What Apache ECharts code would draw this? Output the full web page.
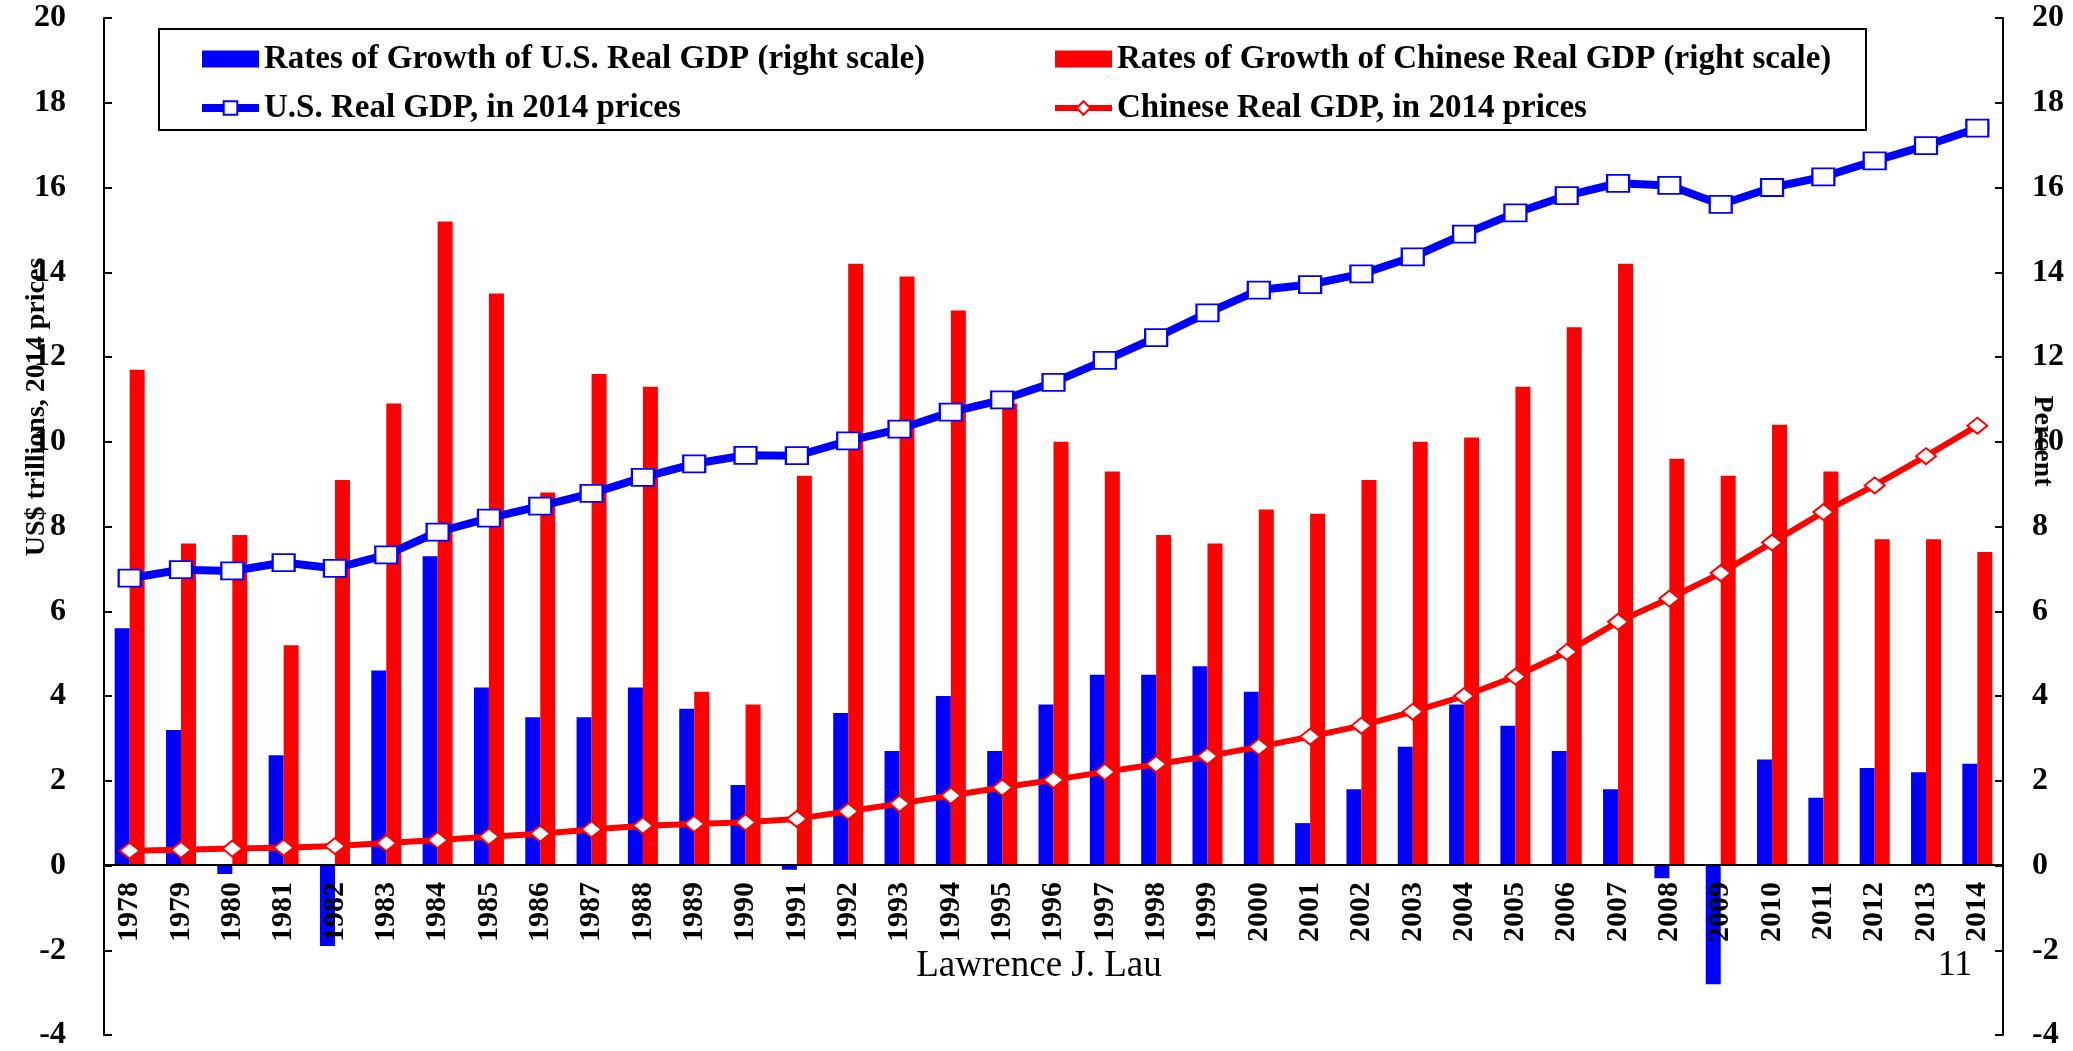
<!DOCTYPE html>
<html>
<head>
<meta charset="utf-8">
<title>U.S. and Chinese Real GDP</title>
<script src="https://cdn.jsdelivr.net/npm/echarts@6/dist/echarts.min.js"></script>
<style>
  html, body { margin: 0; padding: 0; background: #fff; }
  #main { width: 2073px; height: 1051px; }
</style>
</head>
<body>
<div id="main"></div>
<script>
var years = ['1978', '1979', '1980', '1981', '1982', '1983', '1984', '1985', '1986', '1987',
  '1988', '1989', '1990', '1991', '1992', '1993', '1994', '1995', '1996', '1997',
  '1998', '1999', '2000', '2001', '2002', '2003', '2004', '2005', '2006', '2007',
  '2008', '2009', '2010', '2011', '2012', '2013', '2014'];

// growth rates, percent (right scale)
var usGrowth = [5.6, 3.2, -0.2, 2.6, -1.9, 4.6, 7.3, 4.2, 3.5, 3.5,
  4.2, 3.7, 1.9, -0.1, 3.6, 2.7, 4.0, 2.7, 3.8, 4.5,
  4.5, 4.7, 4.1, 1.0, 1.8, 2.8, 3.8, 3.3, 2.7, 1.8,
  -0.3, -2.8, 2.5, 1.6, 2.3, 2.2, 2.4];
var cnGrowth = [11.7, 7.6, 7.8, 5.2, 9.1, 10.9, 15.2, 13.5, 8.8, 11.6,
  11.3, 4.1, 3.8, 9.2, 14.2, 13.9, 13.1, 10.9, 10.0, 9.3,
  7.8, 7.6, 8.4, 8.3, 9.1, 10.0, 10.1, 11.3, 12.7, 14.2,
  9.6, 9.2, 10.4, 9.3, 7.7, 7.7, 7.4];

// real GDP, US$ trillions in 2014 prices (left scale)
var usGdp = [6.78, 6.98, 6.95, 7.15, 7.01, 7.33, 7.87, 8.2, 8.48, 8.78,
  9.16, 9.48, 9.68, 9.67, 10.02, 10.3, 10.7, 10.99, 11.4, 11.92,
  12.46, 13.04, 13.58, 13.71, 13.96, 14.36, 14.9, 15.4, 15.81, 16.1,
  16.05, 15.6, 16.0, 16.25, 16.63, 16.99, 17.4];
var cnGdp = [0.35, 0.37, 0.4, 0.42, 0.46, 0.53, 0.6, 0.68, 0.75, 0.85,
  0.94, 0.98, 1.02, 1.1, 1.28, 1.46, 1.65, 1.84, 2.02, 2.21,
  2.39, 2.58, 2.8, 3.04, 3.3, 3.63, 4.0, 4.46, 5.04, 5.75,
  6.3, 6.9, 7.62, 8.34, 8.97, 9.66, 10.38];

var names = [
  'Rates of Growth of U.S. Real GDP (right scale)',
  'Rates of Growth of Chinese Real GDP (right scale)',
  'U.S. Real GDP, in 2014 prices',
  'Chinese Real GDP, in 2014 prices'
];

var serif = '"Liberation Serif", "Times New Roman", serif';

var myChart = echarts.init(document.getElementById('main'));

var legendText = {
  fontFamily: serif,
  fontWeight: 'bold',
  fontSize: 33,
  lineHeight: 34,
  color: '#000'
};

var yLabel = {
  fontFamily: serif,
  fontWeight: 'bold',
  fontSize: 32,
  color: '#000'
};

var option = {
  animation: false,
  backgroundColor: '#fff',
  grid: {
    left: 104,
    right: 70,
    top: 18,
    bottom: 13,
    containLabel: false
  },
  legend: [
    {
      data: [{ name: names[0], icon: 'rect' }, { name: names[2] }],
      orient: 'vertical',
      left: 193,
      top: 37,
      itemWidth: 57,
      itemHeight: 17,
      itemGap: 15,
      lineStyle: { width: 'inherit' },
      textStyle: legendText
    },
    {
      data: [{ name: names[1], icon: 'rect' }, { name: names[3] }],
      orient: 'vertical',
      left: 1047,
      top: 37,
      itemWidth: 57,
      itemHeight: 17,
      itemGap: 15,
      lineStyle: { width: 'inherit' },
      textStyle: legendText
    }
  ],
  xAxis: {
    type: 'category',
    data: years,
    z: 10,
    // sit the category axis on the zero line (4 units above the -4 floor)
    offset: -170,
    axisLine: {
      onZero: false,
      lineStyle: { color: '#000', width: 2 }
    },
    axisTick: {
      inside: true,
      length: 8,
      lineStyle: { color: '#000', width: 2 }
    },
    axisLabel: {
      rotate: 90,
      interval: 0,
      margin: 17,
      fontFamily: serif,
      fontWeight: 'bold',
      fontSize: 30,
      color: '#000'
    },
    splitLine: { show: false }
  },
  yAxis: [
    {
      type: 'value',
      position: 'left',
      min: -4,
      max: 20,
      interval: 2,
      axisLine: { show: true, onZero: false, lineStyle: { color: '#000', width: 2 } },
      axisTick: { show: true, inside: true, length: 8, lineStyle: { color: '#000', width: 2 } },
      axisLabel: Object.assign({ margin: 38 }, yLabel),
      splitLine: { show: false }
    },
    {
      type: 'value',
      position: 'right',
      min: -4,
      max: 20,
      interval: 2,
      axisLine: { show: true, onZero: false, lineStyle: { color: '#000', width: 2 } },
      axisTick: { show: true, inside: true, length: 8, lineStyle: { color: '#000', width: 2 } },
      axisLabel: Object.assign({ margin: 29 }, yLabel),
      splitLine: { show: false }
    }
  ],
  series: [
    {
      name: names[0],
      type: 'bar',
      yAxisIndex: 1,
      data: usGrowth,
      barWidth: 15,
      barGap: '0%',
      itemStyle: { color: '#0000FF' }
    },
    {
      name: names[1],
      type: 'bar',
      yAxisIndex: 1,
      data: cnGrowth,
      barWidth: 15,
      barGap: '0%',
      itemStyle: { color: '#FF0000' }
    },
    {
      name: names[2],
      type: 'line',
      yAxisIndex: 0,
      data: usGdp,
      z: 5,
      symbol: 'rect',
      symbolSize: [22, 17],
      showAllSymbol: true,
      lineStyle: { color: '#0000FF', width: 8 },
      itemStyle: { color: '#fff', borderColor: '#0000FF', borderWidth: 2 }
    },
    {
      name: names[3],
      type: 'line',
      yAxisIndex: 0,
      data: cnGdp,
      z: 6,
      symbol: 'diamond',
      symbolSize: [20, 16],
      showAllSymbol: true,
      lineStyle: { color: '#FF0000', width: 6 },
      itemStyle: { color: '#fff', borderColor: '#FF0000', borderWidth: 2 }
    }
  ],
  graphic: [
    {
      type: 'rect',
      shape: { x: 159, y: 29, width: 1707, height: 101 },
      style: { fill: 'transparent', stroke: '#000', lineWidth: 2 },
      z: 1
    },
    {
      type: 'text',
      x: 37,
      y: 407,
      rotation: Math.PI / 2,
      style: {
        text: 'US$ trillions, 2014 prices',
        fontFamily: serif,
        fontWeight: 'bold',
        fontSize: 28,
        fill: '#000',
        align: 'center',
        verticalAlign: 'middle'
      }
    },
    {
      type: 'text',
      x: 2042,
      y: 441,
      rotation: -Math.PI / 2,
      style: {
        text: 'Percent',
        fontFamily: serif,
        fontWeight: 'bold',
        fontSize: 28,
        fill: '#000',
        align: 'center',
        verticalAlign: 'middle'
      }
    },
    {
      type: 'text',
      x: 1039,
      y: 966,
      style: {
        text: 'Lawrence J. Lau',
        fontFamily: serif,
        fontSize: 37,
        fill: '#000',
        align: 'center',
        verticalAlign: 'middle'
      }
    },
    {
      type: 'text',
      x: 1955,
      y: 966,
      style: {
        text: '11',
        fontFamily: serif,
        fontSize: 36,
        fill: '#000',
        align: 'center',
        verticalAlign: 'middle'
      }
    }
  ]
};

myChart.setOption(option);
</script>
</body>
</html>
